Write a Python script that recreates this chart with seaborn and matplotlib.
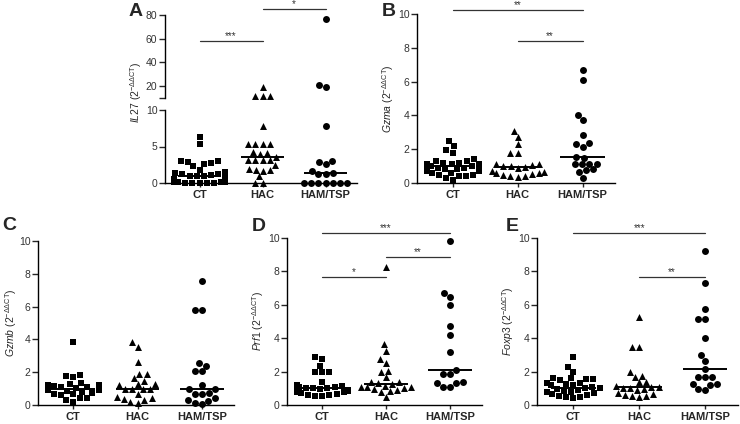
import numpy as np
import pandas as pd
import seaborn as sns
import matplotlib.pyplot as plt

groups = ['CT', 'HAC', 'HAM/TSP']
markers = ['s', '^', 'o']

# IL27 (panel A, broken axis)
il27_ct = [6.3, 5.3, 3.0, 3.0, 2.9, 2.7, 2.6, 2.3, 1.8, 1.5, 1.4, 1.3, 1.2, 1.1, 1.0,
           1.0, 0.9, 0.8, 0.5, 0.3, 0.2, 0.2, 0.1, 0.1, 0.1, 0.05, 0.05, 0.05, 0.02, 0.02]
il27_hac = [19.4, 11.5, 11.5, 11.5, 7.8, 5.4, 5.4, 5.4, 5.4, 4.3, 4.1, 4.0, 3.6, 3.2,
            3.15, 3.1, 3.1, 2.5, 1.9, 1.8, 1.8, 1.7, 0.9, 0.05, 0.05]
il27_ham = [76.6, 20.8, 18.9, 7.8, 2.95, 2.9, 2.6, 1.7, 1.4, 1.3, 1.3,
            0.05, 0.05, 0.05, 0.05, 0.05, 0.05, 0.05]

# Gzma (panel B)
gzma_ct = [2.5, 2.2, 1.95, 1.8, 1.4, 1.3, 1.3, 1.2, 1.2, 1.1, 1.1, 1.1, 1.0, 1.0, 1.0,
           1.0, 0.9, 0.9, 0.8, 0.8, 0.7, 0.7, 0.6, 0.6, 0.5, 0.5, 0.4, 0.4, 0.3, 0.2]
gzma_hac = [3.1, 2.75, 2.3, 1.8, 1.75, 1.1, 1.1, 1.05, 1.0, 1.0, 0.95, 0.9, 0.7, 0.65,
            0.6, 0.6, 0.55, 0.5, 0.4, 0.4, 0.35]
gzma_ham = [6.7, 6.1, 4.0, 3.7, 2.85, 2.35, 2.3, 2.15, 1.55, 1.5, 1.15, 1.15, 1.15, 1.1,
            0.8, 0.75, 0.65, 0.3]

# Gzmb (panel C)
gzmb_ct = [3.85, 1.8, 1.75, 1.7, 1.35, 1.3, 1.2, 1.2, 1.15, 1.1, 1.1, 1.05, 1.0, 1.0, 1.0,
           1.0, 0.95, 0.9, 0.9, 0.85, 0.8, 0.75, 0.7, 0.65, 0.6, 0.45, 0.4, 0.3, 0.2]
gzmb_hac = [3.85, 3.55, 2.6, 1.9, 1.9, 1.65, 1.45, 1.3, 1.3, 1.2, 1.0, 1.0, 0.95, 0.95,
            0.65, 0.5, 0.4, 0.35, 0.3, 0.2, 0.15]
gzmb_ham = [7.55, 5.8, 5.8, 2.55, 2.4, 2.05, 2.05, 1.2, 1.0, 1.0, 0.75, 0.7, 0.65, 0.4,
            0.3, 0.25, 0.1, 0.05]

# Prf1 (panel D)
prf1_ct = [2.85, 2.75, 2.35, 1.95, 1.95, 1.95, 1.35, 1.2, 1.15, 1.1, 1.1, 1.05, 1.0, 1.0,
           1.0, 0.95, 0.9, 0.9, 0.85, 0.8, 0.75, 0.7, 0.65, 0.6, 0.6, 0.55, 0.55]
prf1_hac = [8.25, 3.65, 3.25, 2.75, 2.5, 2.05, 1.95, 1.65, 1.4, 1.35, 1.3, 1.25, 1.15,
            1.1, 1.1, 1.05, 1.0, 0.95, 0.9, 0.85, 0.8, 0.5]
prf1_ham = [9.8, 6.7, 6.45, 6.0, 4.75, 4.2, 3.15, 2.1, 1.85, 1.85, 1.35, 1.3, 1.3, 1.05, 1.05]

# Foxp3 (panel E)
foxp3_ct = [2.9, 2.3, 2.0, 1.6, 1.6, 1.55, 1.55, 1.5, 1.3, 1.3, 1.25, 1.2, 1.2, 1.1, 1.0,
            1.0, 1.0, 0.95, 0.9, 0.85, 0.8, 0.75, 0.7, 0.65, 0.6, 0.55, 0.5, 0.45, 0.4]
foxp3_hac = [5.25, 3.5, 3.5, 2.0, 1.75, 1.7, 1.35, 1.35, 1.15, 1.1, 1.05, 1.0, 1.0, 0.95,
             0.9, 0.7, 0.65, 0.6, 0.55, 0.55, 0.5]
foxp3_ham = [9.25, 7.3, 5.75, 5.15, 5.15, 4.0, 3.0, 2.65, 2.15, 1.65, 1.65, 1.65, 1.25,
             1.25, 1.2, 0.95, 0.9]

sns.set_style('ticks')
plt.rcParams['font.family'] = ['Liberation Sans', 'DejaVu Sans']
plt.rcParams['mathtext.fontset'] = 'custom'
plt.rcParams['mathtext.rm'] = 'Liberation Sans'
plt.rcParams['mathtext.it'] = 'Liberation Sans:italic'
plt.rcParams['mathtext.bf'] = 'Liberation Sans:bold'

W, H = 740, 424
fig = plt.figure(figsize=(7.4, 4.24), dpi=100)


def box(left, right, top, bottom):
    return [left / W, 1 - bottom / H, (right - left) / W, (bottom - top) / H]


def style_ax(ax, ylim, yticks):
    ax.set_ylim(*ylim)
    ax.set_yticks(yticks)
    for s in ['top', 'right']:
        ax.spines[s].set_visible(False)
    for s in ['left', 'bottom']:
        ax.spines[s].set_linewidth(1.0)
        ax.spines[s].set_color('black')
    ax.tick_params(axis='y', direction='out', length=4, width=1, labelsize=7.5,
                   labelcolor='#333333', pad=1.5)
    ax.tick_params(axis='x', direction='out', length=3, width=1, pad=2)
    ax.set_xlabel('')


def draw(ax, data, ylim, keep=None):
    ax.set_ylim(*ylim)
    for g, m, vals in zip(groups, markers, data):
        v = [x for x in vals if keep is None or keep(x)]
        if not v:
            continue
        sns.swarmplot(x=[g] * len(v), y=v, order=groups, marker=m, color='black',
                      size=5, ax=ax, warn_thresh=1)
    for c in ax.collections:
        c.set_clip_on(False)
    ax.set_xlim(-0.55, 2.5)


def medians(ax, data):
    for i, vals in enumerate(data):
        ax.hlines(np.median(vals), i - 0.34, i + 0.34, color='black', lw=1.4, zorder=5)


def sig(ax, x1, x2, y, txt):
    ax.plot([x1, x2], [y, y], color='#333333', lw=0.9, clip_on=False)
    ax.text((x1 + x2) / 2, y, txt, ha='center', va='bottom', fontsize=7,
            color='#333333', clip_on=False)


def xlabels(ax):
    ax.set_xticks(range(3))
    ax.set_xticklabels(groups, fontsize=8, fontweight='bold')


def ylab(gene):
    return r'$\mathit{' + gene + r'}$ (2$^{-\Delta\Delta\mathrm{CT}}$)'


# ---- Panel A: broken axis
il27 = [il27_ct, il27_hac, il27_ham]
ax_lo = fig.add_axes(box(165, 357, 110, 183))
ax_hi = fig.add_axes(box(165, 357, 15, 98))
draw(ax_lo, il27, (0, 10), keep=lambda x: x < 10)
draw(ax_hi, il27, (10, 80), keep=lambda x: x >= 10)
style_ax(ax_lo, (0, 10), [0, 5, 10])
style_ax(ax_hi, (10, 80), [10, 20, 40, 60, 80])
ax_hi.set_yticklabels(['', '20', '40', '60', '80'])
ax_hi.spines['bottom'].set_visible(False)
ax_hi.tick_params(axis='x', bottom=False, labelbottom=False)
ax_hi.set_ylabel('')
ax_lo.set_ylabel('')
medians(ax_lo, il27)
xlabels(ax_lo)
ax_lo.set_xlim(-0.55, 2.5)
ax_hi.set_xlim(-0.55, 2.5)
sig(ax_hi, 0, 1, 58, '***')
sig(ax_hi, 1, 2, 85, '*')
fig.text(136 / W, 1 - 92 / H, ylab('IL27'), rotation=90, ha='center', va='center',
         fontsize=7.5)

# ---- Other panels
panels = [
    ('B', [gzma_ct, gzma_hac, gzma_ham], 'Gzma', box(417, 615, 14, 183),
     [(0, 2, 10.25, '**'), (1, 2, 8.4, '**')], (389, 12), -0.108),
    ('C', [gzmb_ct, gzmb_hac, gzmb_ham], 'Gzmb', box(38, 234, 241, 405),
     [], (9, 225), -0.098),
    ('D', [prf1_ct, prf1_hac, prf1_ham], 'Prf1', box(287, 482, 238, 405),
     [(0, 2, 10.3, '***'), (1, 2, 8.85, '**'), (0, 1, 7.65, '*')], (259, 226), -0.108),
    ('E', [foxp3_ct, foxp3_hac, foxp3_ham], 'Foxp3', box(537, 738, 238, 405),
     [(0, 2, 10.3, '***'), (1, 2, 7.65, '**')], (512, 227), -0.105),
]

for letter, data, gene, pos, bars, lpos, lx in panels:
    ax = fig.add_axes(pos)
    draw(ax, data, (0, 10))
    style_ax(ax, (0, 10), [0, 2, 4, 6, 8, 10])
    medians(ax, data)
    xlabels(ax)
    ax.set_xlim(-0.55, 2.5)
    ax.set_ylabel(ylab(gene), fontsize=7.5)
    ax.yaxis.set_label_coords(lx, 0.5)
    for x1, x2, y, t in bars:
        sig(ax, x1, x2, y, t)
    fig.text(lpos[0] / W, 1 - lpos[1] / H, letter, fontsize=14, fontweight='bold',
             ha='center', va='center')

fig.text(136 / W, 1 - 12 / H, 'A', fontsize=14, fontweight='bold', ha='center', va='center')

fig.savefig('out.png', dpi=100)
